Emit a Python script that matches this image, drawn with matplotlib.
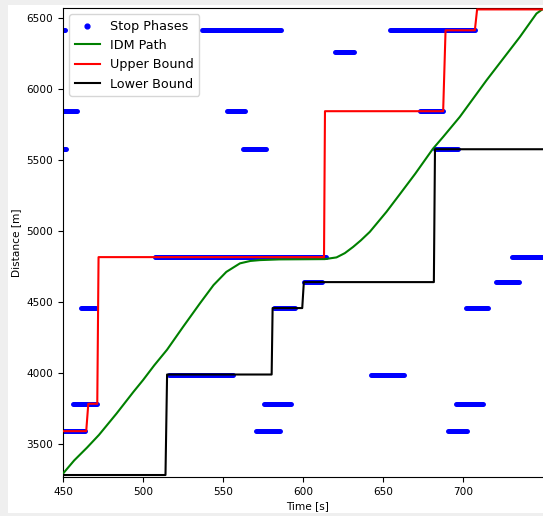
import numpy as np
import matplotlib
matplotlib.use("Agg")
import matplotlib.pyplot as plt
from matplotlib.patches import Rectangle

# Stop phases: start time [s], end time [s], distance [m]
stop_start = [445, 536.5, 654.5, 620, 445, 552.5, 673, 445, 562.5, 682.5,
              507.5, 730.5, 600.5, 720.5, 461, 582, 701.5, 516.5, 642.5,
              456, 575.5, 695.5, 445, 570.5, 690.5]
stop_end = [451.5, 586, 707.5, 632, 459, 563.5, 687, 452, 576.5, 696.5,
            614.5, 760, 612, 734.5, 470.5, 595, 715.5, 556, 663,
            471, 592.5, 712.5, 464, 585.5, 702.5]
stop_dist = [6415, 6415, 6415, 6265, 5845, 5845, 5845, 5577, 5577, 5577,
             4817, 4817, 4641, 4641, 4458, 4458, 4458, 3990, 3990,
             3784, 3784, 3784, 3591, 3591, 3591]

# IDM trajectory
idm_t = [450, 457, 465, 472.5, 483.5, 494, 500, 507, 515, 525, 535.5, 544,
         552, 560.5, 567, 573, 585, 600, 613.5, 620.8, 626, 631.2, 636,
         641.6, 652, 660, 670, 681, 687.4, 697.8, 714.5, 735.3, 745.7, 750, 756]
idm_d = [3292, 3385, 3475, 3565, 3716, 3868, 3951, 4055, 4165, 4326, 4491, 4620,
         4713, 4773, 4790, 4796, 4801, 4802, 4803, 4815, 4845, 4889, 4935,
         4995, 5136, 5255, 5405, 5580, 5664, 5805, 6063, 6368, 6533, 6568, 6650]

# Upper / lower bounds
upper_t = [450, 464.5, 465.8, 471.4, 472.2, 613, 613.6, 687.4, 688.9, 707.2, 708.6, 760]
upper_d = [3591, 3591, 3784, 3784, 4817, 4817, 5845, 5845, 6415, 6415, 6562, 6562]
lower_t = [450, 514, 515, 580.3, 580.9, 599.4, 600.4, 681.6, 682.3, 760]
lower_d = [3282, 3282, 3990, 3990, 4458, 4458, 4641, 4641, 5577, 5577]

W, H = 543, 516
fig = plt.figure(figsize=(W / 100, H / 100), dpi=100, facecolor="#efefef")
fig.patches.append(Rectangle((8 / W, 3 / H), 1, 508 / H, transform=fig.transFigure,
                             facecolor="white", edgecolor="none", zorder=-5))

ax = fig.add_axes([63 / W, 39 / H, 490 / W, 469 / H])

ax.hlines(stop_dist, stop_start, stop_end, colors="b", linewidth=3.6,
          capstyle="round", zorder=1)
ax.scatter([], [], color="b", s=12, label="Stop Phases")
ax.plot(idm_t, idm_d, color="g", linewidth=1.5, label="IDM Path", zorder=3)
ax.plot(upper_t, upper_d, color="r", linewidth=1.5, label="Upper Bound", zorder=3)
ax.plot(lower_t, lower_d, color="k", linewidth=1.5, label="Lower Bound", zorder=3)

ax.set_xlim(450, 756)
ax.set_ylim(3268, 6572)
ax.set_xticks([450, 500, 550, 600, 650, 700])
ax.set_yticks([3500, 4000, 4500, 5000, 5500, 6000, 6500])
ax.tick_params(labelsize=7.6)
ax.set_xlabel("Time [s]", fontsize=7.6, labelpad=3)
ax.set_ylabel("Distance [m]", fontsize=7.6)
ax.legend(loc="upper left", fontsize=9.2)

fig.savefig("out.png", dpi=100, facecolor=fig.get_facecolor())
